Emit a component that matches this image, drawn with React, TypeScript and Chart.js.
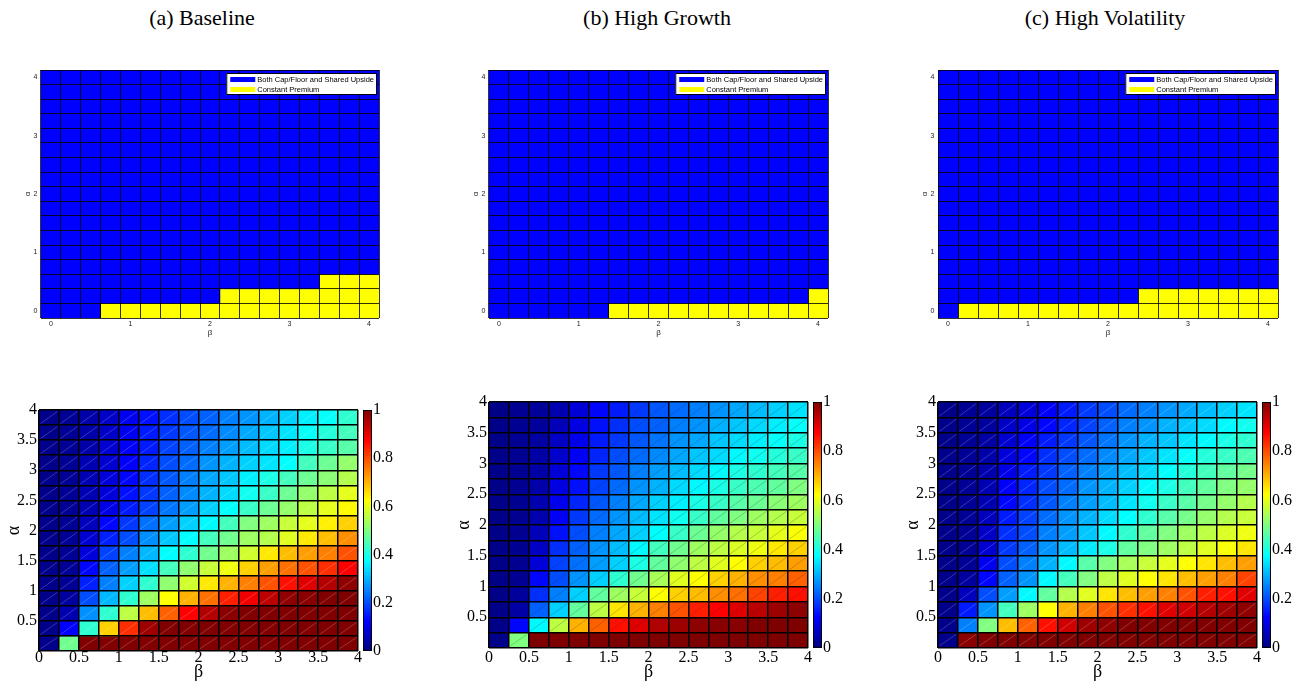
import React, { useEffect, useRef } from "react";
import { Chart, registerables } from "chart.js";

Chart.register(...registerables);

// ------------------------------------------------------------------ data
const panelTitles = ["(a) Baseline", "(b) High Growth", "(c) High Volatility"];

const regimeLabels = ["Both Cap/Floor and Shared Upside", "Constant Premium"];
const regimeColors = ["#0000ff", "#ffff00"];

// regime maps: cell centres on the β / α grid
const regimeGrid = [0, 0.25, 0.5, 0.75, 1, 1.25, 1.5, 1.75, 2, 2.25, 2.5, 2.75, 3, 3.25, 3.5, 3.75, 4];
const regimeTicks = [0, 1, 2, 3, 4];

// rows from α = 4 (top) down to α = 0 (bottom), columns β = 0 … 4; "1" = Constant Premium
const regimeBaseline = [
  "00000000000000000",
  "00000000000000000",
  "00000000000000000",
  "00000000000000000",
  "00000000000000000",
  "00000000000000000",
  "00000000000000000",
  "00000000000000000",
  "00000000000000000",
  "00000000000000000",
  "00000000000000000",
  "00000000000000000",
  "00000000000000000",
  "00000000000000000",
  "00000000000000111",
  "00000000011111111",
  "00011111111111111",
];
const regimeHighGrowth = [
  "00000000000000000",
  "00000000000000000",
  "00000000000000000",
  "00000000000000000",
  "00000000000000000",
  "00000000000000000",
  "00000000000000000",
  "00000000000000000",
  "00000000000000000",
  "00000000000000000",
  "00000000000000000",
  "00000000000000000",
  "00000000000000000",
  "00000000000000000",
  "00000000000000000",
  "00000000000000001",
  "00000011111111111",
];
const regimeHighVolatility = [
  "00000000000000000",
  "00000000000000000",
  "00000000000000000",
  "00000000000000000",
  "00000000000000000",
  "00000000000000000",
  "00000000000000000",
  "00000000000000000",
  "00000000000000000",
  "00000000000000000",
  "00000000000000000",
  "00000000000000000",
  "00000000000000000",
  "00000000000000000",
  "00000000000000000",
  "00000000001111111",
  "01111111111111111",
];

// share maps: cell edges on the β / α grid
const shareEdges = [0, 0.25, 0.5, 0.75, 1, 1.25, 1.5, 1.75, 2, 2.25, 2.5, 2.75, 3, 3.25, 3.5, 3.75, 4];
const betaTicks = [0, 0.5, 1, 1.5, 2, 2.5, 3, 3.5, 4];
const alphaTicks = [0.5, 1, 1.5, 2, 2.5, 3, 3.5, 4];
const colorbarTicks = [0, 0.2, 0.4, 0.6, 0.8, 1];

// rows from α = 3.75–4 (top) down to α = 0–0.25 (bottom); columns β = 0–0.25 … 3.75–4
const shareBaseline = [
  [0.01, 0.02, 0.04, 0.07, 0.11, 0.14, 0.17, 0.2, 0.22, 0.25, 0.27, 0.3, 0.33, 0.36, 0.38, 0.42],
  [0.01, 0.02, 0.04, 0.07, 0.11, 0.15, 0.18, 0.21, 0.23, 0.26, 0.29, 0.32, 0.35, 0.38, 0.41, 0.44],
  [0.01, 0.02, 0.04, 0.08, 0.12, 0.15, 0.19, 0.22, 0.25, 0.28, 0.31, 0.34, 0.36, 0.4, 0.43, 0.46],
  [0.01, 0.02, 0.05, 0.08, 0.12, 0.16, 0.2, 0.23, 0.27, 0.3, 0.33, 0.35, 0.375, 0.44, 0.48, 0.52],
  [0.01, 0.02, 0.05, 0.09, 0.13, 0.17, 0.21, 0.25, 0.29, 0.32, 0.36, 0.4, 0.44, 0.48, 0.51, 0.55],
  [0.01, 0.02, 0.05, 0.09, 0.14, 0.18, 0.22, 0.26, 0.3, 0.34, 0.39, 0.43, 0.48, 0.52, 0.56, 0.6],
  [0.01, 0.02, 0.05, 0.1, 0.15, 0.19, 0.24, 0.28, 0.33, 0.375, 0.43, 0.48, 0.52, 0.56, 0.6, 0.63],
  [0.01, 0.02, 0.06, 0.13, 0.18, 0.235, 0.28, 0.33, 0.37, 0.44, 0.5, 0.53, 0.57, 0.6, 0.64, 0.67],
  [0.01, 0.02, 0.08, 0.155, 0.2, 0.265, 0.32, 0.375, 0.44, 0.485, 0.53, 0.55, 0.595, 0.647, 0.69, 0.735],
  [0.01, 0.02, 0.09, 0.19, 0.25, 0.305, 0.375, 0.42, 0.485, 0.53, 0.58, 0.647, 0.69, 0.72, 0.75, 0.795],
  [0.01, 0.02, 0.13, 0.22, 0.28, 0.345, 0.44, 0.515, 0.57, 0.61, 0.67, 0.72, 0.765, 0.795, 0.83, 0.875],
  [0.01, 0.02, 0.155, 0.25, 0.33, 0.42, 0.515, 0.58, 0.647, 0.7, 0.75, 0.795, 0.86, 0.905, 0.95, 0.985],
  [0.01, 0.03, 0.2, 0.305, 0.42, 0.53, 0.625, 0.7, 0.765, 0.845, 0.89, 0.94, 0.985, 0.99, 1, 1],
  [0.01, 0.047, 0.266, 0.42, 0.56, 0.69, 0.78, 0.875, 0.95, 0.99, 1, 1, 1, 1, 1, 1],
  [0.01, 0.125, 0.42, 0.67, 0.83, 0.97, 1, 1, 1, 1, 1, 1, 1, 1, 1, 1],
  [0.01, 0.485, 1, 1, 1, 1, 1, 1, 1, 1, 1, 1, 1, 1, 1, 1],
];
const shareHighGrowth = [
  [0.01, 0.02, 0.03, 0.05, 0.09, 0.13, 0.15, 0.18, 0.21, 0.23, 0.25, 0.27, 0.29, 0.31, 0.33, 0.35],
  [0.01, 0.02, 0.03, 0.06, 0.1, 0.14, 0.17, 0.2, 0.22, 0.25, 0.27, 0.3, 0.32, 0.34, 0.36, 0.38],
  [0.01, 0.02, 0.035, 0.07, 0.11, 0.15, 0.18, 0.21, 0.24, 0.27, 0.29, 0.32, 0.34, 0.36, 0.38, 0.4],
  [0.01, 0.02, 0.04, 0.08, 0.12, 0.16, 0.2, 0.23, 0.26, 0.29, 0.32, 0.34, 0.37, 0.39, 0.41, 0.43],
  [0.01, 0.02, 0.04, 0.09, 0.13, 0.18, 0.21, 0.25, 0.28, 0.31, 0.34, 0.37, 0.4, 0.42, 0.44, 0.46],
  [0.01, 0.02, 0.045, 0.1, 0.14, 0.19, 0.23, 0.27, 0.3, 0.34, 0.37, 0.4, 0.43, 0.45, 0.47, 0.5],
  [0.01, 0.02, 0.05, 0.11, 0.16, 0.21, 0.25, 0.29, 0.33, 0.36, 0.4, 0.43, 0.46, 0.48, 0.51, 0.53],
  [0.01, 0.02, 0.05, 0.12, 0.18, 0.23, 0.27, 0.31, 0.35, 0.39, 0.43, 0.47, 0.5, 0.53, 0.55, 0.57],
  [0.01, 0.02, 0.06, 0.14, 0.2, 0.25, 0.29, 0.33, 0.375, 0.43, 0.48, 0.52, 0.55, 0.57, 0.6, 0.62],
  [0.01, 0.02, 0.07, 0.17, 0.22, 0.27, 0.31, 0.37, 0.44, 0.485, 0.53, 0.56, 0.59, 0.61, 0.647, 0.67],
  [0.01, 0.02, 0.09, 0.19, 0.235, 0.28, 0.33, 0.4, 0.47, 0.515, 0.56, 0.595, 0.625, 0.67, 0.69, 0.72],
  [0.01, 0.02, 0.13, 0.2, 0.27, 0.33, 0.42, 0.485, 0.54, 0.595, 0.625, 0.67, 0.7, 0.735, 0.75, 0.78],
  [0.01, 0.03, 0.17, 0.25, 0.33, 0.47, 0.53, 0.57, 0.625, 0.67, 0.69, 0.735, 0.765, 0.81, 0.845, 0.86],
  [0.01, 0.04, 0.22, 0.33, 0.47, 0.56, 0.65, 0.7, 0.75, 0.795, 0.845, 0.875, 0.905, 0.94, 0.97, 0.985],
  [0.01, 0.13, 0.37, 0.56, 0.7, 0.78, 0.86, 0.905, 0.95, 0.97, 0.985, 0.99, 0.99, 1, 1, 1],
  [0.01, 0.5, 1, 1, 1, 1, 1, 1, 1, 1, 1, 1, 1, 1, 1, 1],
];
const shareHighVolatility = [
  [0.01, 0.02, 0.03, 0.06, 0.09, 0.12, 0.15, 0.18, 0.2, 0.23, 0.25, 0.27, 0.29, 0.31, 0.33, 0.35],
  [0.01, 0.02, 0.03, 0.07, 0.1, 0.13, 0.16, 0.19, 0.22, 0.25, 0.27, 0.3, 0.32, 0.34, 0.37, 0.39],
  [0.01, 0.02, 0.035, 0.08, 0.12, 0.15, 0.18, 0.21, 0.24, 0.27, 0.3, 0.32, 0.35, 0.37, 0.4, 0.42],
  [0.01, 0.02, 0.04, 0.09, 0.13, 0.17, 0.2, 0.23, 0.26, 0.29, 0.32, 0.35, 0.38, 0.41, 0.43, 0.45],
  [0.01, 0.02, 0.045, 0.1, 0.15, 0.18, 0.22, 0.25, 0.28, 0.31, 0.34, 0.375, 0.41, 0.44, 0.47, 0.49],
  [0.01, 0.02, 0.05, 0.12, 0.16, 0.2, 0.23, 0.27, 0.3, 0.33, 0.37, 0.4, 0.44, 0.47, 0.5, 0.52],
  [0.01, 0.02, 0.05, 0.13, 0.17, 0.21, 0.25, 0.28, 0.31, 0.35, 0.39, 0.43, 0.46, 0.49, 0.52, 0.55],
  [0.01, 0.02, 0.06, 0.15, 0.19, 0.23, 0.27, 0.3, 0.34, 0.375, 0.42, 0.46, 0.49, 0.52, 0.55, 0.57],
  [0.01, 0.02, 0.07, 0.17, 0.2, 0.25, 0.28, 0.32, 0.37, 0.42, 0.47, 0.5, 0.53, 0.56, 0.59, 0.61],
  [0.01, 0.02, 0.08, 0.18, 0.22, 0.27, 0.31, 0.355, 0.4, 0.47, 0.5, 0.53, 0.56, 0.595, 0.62, 0.65],
  [0.01, 0.02, 0.11, 0.2, 0.25, 0.3, 0.37, 0.46, 0.5, 0.54, 0.57, 0.6, 0.625, 0.65, 0.69, 0.72],
  [0.01, 0.03, 0.13, 0.22, 0.27, 0.37, 0.44, 0.5, 0.56, 0.595, 0.625, 0.65, 0.69, 0.72, 0.75, 0.81],
  [0.01, 0.06, 0.2, 0.28, 0.37, 0.47, 0.55, 0.595, 0.65, 0.69, 0.72, 0.75, 0.795, 0.845, 0.86, 0.905],
  [0.01, 0.15, 0.27, 0.44, 0.53, 0.625, 0.7, 0.75, 0.795, 0.83, 0.86, 0.905, 0.92, 0.95, 0.97, 0.985],
  [0.01, 0.25, 0.5, 0.69, 0.78, 0.86, 0.92, 0.97, 0.985, 1, 1, 1, 1, 1, 1, 1],
  [0.01, 0.99, 1, 1, 1, 1, 1, 1, 1, 1, 1, 1, 1, 1, 1, 1],
];

const regimeMaps = [regimeBaseline, regimeHighGrowth, regimeHighVolatility];
const shareMaps = [shareBaseline, shareHighGrowth, shareHighVolatility];
const diagonalColors = ["rgba(255,255,255,0.35)", "rgba(40,40,40,0.4)", "rgba(255,255,255,0.35)"];

// ------------------------------------------------------------------ layout
const TITLE_X = [202, 657, 1105];
const TOP_BOX = [
  { l: 41, r: 379 },
  { l: 489, r: 828 },
  { l: 938, r: 1278 },
];
const TOP_T = 70;
const TOP_B = 318;
const BOTTOM_BOX = [
  { l: 39, r: 358, t: 410, b: 651, cb: 363 },
  { l: 489, r: 808, t: 402, b: 648, cb: 813 },
  { l: 938, r: 1257, t: 402, b: 648, cb: 1262 },
];
const CB_W = 9;

const SERIF = "'Liberation Serif', 'Times New Roman', serif";
const SANS = "'Liberation Sans', Arial, sans-serif";

// ------------------------------------------------------------------ helpers
const jet = (v: number) => {
  const t = Math.max(0, Math.min(1, v));
  const f = (x: number) => Math.round(255 * Math.max(0, Math.min(1, x)));
  return `rgb(${f(1.5 - Math.abs(4 * t - 3))},${f(1.5 - Math.abs(4 * t - 2))},${f(1.5 - Math.abs(4 * t - 1))})`;
};

const fixedTicks = (vals: number[]) => (scale: any) => {
  scale.ticks = vals.map((v) => ({ value: v }));
};
const labelOnly = (shown: number[]) => (v: any) => (shown.some((s) => Math.abs(s - v) < 1e-9) ? `${v}` : "");

const cellDiagonals = (color: string) => ({
  id: "cellDiagonals",
  afterDatasetsDraw(chart: any) {
    const ctx = chart.ctx;
    ctx.save();
    ctx.strokeStyle = color;
    ctx.lineWidth = 0.6;
    chart.data.datasets.forEach((_: any, i: number) => {
      chart.getDatasetMeta(i).data.forEach((bar: any) => {
        const { x, y, base, width } = bar.getProps(["x", "y", "base", "width"], true);
        const top = Math.min(y, base);
        const bottom = Math.max(y, base);
        ctx.beginPath();
        ctx.moveTo(x - width / 2 + 1.5, bottom - 1.5);
        ctx.lineTo(x + width / 2 - 1.5, top + 1.5);
        ctx.stroke();
      });
    });
    ctx.restore();
  },
});

const insideLegend = {
  id: "insideLegend",
  afterDraw(chart: any) {
    const { ctx, chartArea } = chart;
    const ds = chart.data.datasets;
    ctx.save();
    ctx.font = `7.5px ${SANS}`;
    const textW = Math.max(...ds.map((d: any) => ctx.measureText(d.label).width));
    const w = 31 + textW + 3;
    const h = 22;
    const x0 = chartArea.right - 2 - w;
    const y0 = chartArea.top + 3;
    ctx.fillStyle = "#fff";
    ctx.fillRect(x0, y0, w, h);
    ctx.strokeStyle = "#000";
    ctx.lineWidth = 1;
    ctx.strokeRect(x0 + 0.5, y0 + 0.5, w - 1, h - 1);
    ds.forEach((d: any, i: number) => {
      const cy = y0 + 6.5 + i * 10;
      ctx.fillStyle = d.legendColor;
      ctx.fillRect(x0 + 4, cy - 2.5, 25, 5);
      ctx.fillStyle = "#000";
      ctx.textBaseline = "middle";
      ctx.textAlign = "left";
      ctx.fillText(d.label, x0 + 31, cy);
    });
    ctx.restore();
  },
};

function regimeConfig(map: string[]) {
  const half = (regimeGrid[1] - regimeGrid[0]) / 2;
  const n = regimeGrid.length;
  const groups: any[][] = [[], []];
  map.forEach((row, i) => {
    const a = regimeGrid[n - 1 - i];
    row.split("").forEach((ch, j) => {
      groups[Number(ch)].push({ x: regimeGrid[j], y: [a - half, a + half] });
    });
  });
  const datasets = groups.map((data, k) => ({
    label: regimeLabels[k],
    legendColor: regimeColors[k],
    data,
    backgroundColor: regimeColors[k],
    borderWidth: 0,
    grouped: false,
    barPercentage: 1,
    categoryPercentage: 1,
  }));
  const tickFont = { family: SANS, size: 7, lineHeight: 1 };
  const grid = { display: true, drawTicks: false, tickLength: 0, offset: true, z: 1, color: "rgba(0,0,0,0.8)", lineWidth: 1 };
  return {
    type: "bar",
    data: { datasets },
    options: {
      responsive: false,
      animation: false,
      events: [],
      layout: { padding: { top: TOP_T - 55, right: 10, left: 0, bottom: 0 } },
      plugins: { legend: { display: false }, tooltip: { enabled: false } },
      scales: {
        x: {
          type: "linear",
          offset: false,
          min: regimeGrid[0] - half,
          max: regimeGrid[n - 1] + half,
          grid,
          border: { display: false },
          ticks: { font: tickFont, color: "#222", padding: 2.5, autoSkip: false, maxRotation: 0, callback: labelOnly(regimeTicks) },
          afterBuildTicks: fixedTicks(regimeGrid),
          afterFit: (s: any) => {
            s.height = 22;
          },
          title: { display: true, text: "β", font: { family: SANS, size: 8, lineHeight: 1 }, color: "#222", padding: { top: 0, bottom: 3 } },
        },
        y: {
          type: "linear",
          min: regimeGrid[0] - half,
          max: regimeGrid[n - 1] + half,
          grid,
          border: { display: false },
          ticks: { font: tickFont, color: "#222", padding: 3.5, autoSkip: false, callback: labelOnly(regimeTicks) },
          afterBuildTicks: fixedTicks(regimeGrid),
          afterFit: (s: any) => {
            s.width = 30;
          },
          title: { display: true, text: "α", font: { family: SANS, size: 8, lineHeight: 1 }, color: "#222", padding: { top: 13, bottom: 0 } },
        },
      },
    },
    plugins: [insideLegend],
  };
}

function shareConfig(rows: number[][], box: any, diag: string) {
  const n = rows.length;
  const datasets = rows.map((row, i) => {
    const r = n - 1 - i;
    return {
      label: `α ${shareEdges[r]}–${shareEdges[r + 1]}`,
      data: row.map((_, c) => ({ x: (shareEdges[c] + shareEdges[c + 1]) / 2, y: [shareEdges[r], shareEdges[r + 1]] })),
      backgroundColor: row.map(jet),
      borderWidth: 0,
      grouped: false,
      barPercentage: 1,
      categoryPercentage: 1,
    };
  });
  const tickFont = { family: SERIF, size: 16, lineHeight: 1 };
  const grid = { display: true, drawTicks: false, tickLength: 0, offset: false, z: 1, color: "#000", lineWidth: 1.5 };
  return {
    type: "bar",
    data: { datasets },
    options: {
      responsive: false,
      animation: false,
      events: [],
      layout: { padding: { top: box.t - 390, right: 12, left: 0, bottom: 0 } },
      plugins: { legend: { display: false }, tooltip: { enabled: false } },
      scales: {
        x: {
          type: "linear",
          offset: false,
          min: shareEdges[0],
          max: shareEdges[shareEdges.length - 1],
          grid,
          border: { display: false },
          ticks: { font: tickFont, color: "#000", padding: 658 - box.b - 8, autoSkip: false, maxRotation: 0, callback: labelOnly(betaTicks) },
          afterBuildTicks: fixedTicks(shareEdges),
          afterFit: (s: any) => {
            s.height = 684 - box.b;
          },
          title: { display: true, text: "β", font: { family: SERIF, size: 18, lineHeight: 1 }, color: "#000", padding: { top: 0, bottom: 3 } },
        },
        y: {
          type: "linear",
          min: shareEdges[0],
          max: shareEdges[shareEdges.length - 1],
          grid,
          border: { display: false },
          ticks: { font: tickFont, color: "#000", padding: 2, autoSkip: false, callback: labelOnly(alphaTicks) },
          afterBuildTicks: fixedTicks(shareEdges),
          afterFit: (s: any) => {
            s.width = 39;
          },
          title: { display: true, text: "α", font: { family: SERIF, size: 18, lineHeight: 1 }, color: "#000", padding: { top: 5, bottom: 0 } },
        },
      },
    },
    plugins: [cellDiagonals(diag)],
  };
}

function colorbarConfig(box: any) {
  const lo = colorbarTicks[0];
  const hi = colorbarTicks[colorbarTicks.length - 1];
  return {
    type: "bar",
    data: {
      labels: [""],
      datasets: [
        {
          data: [[lo, hi]],
          backgroundColor: (c: any) => {
            const ca = c.chart.chartArea;
            if (!ca) return jet(0);
            const g = c.chart.ctx.createLinearGradient(0, ca.bottom, 0, ca.top);
            [0, 0.125, 0.375, 0.625, 0.875, 1].forEach((s) => g.addColorStop(s, jet(lo + s * (hi - lo))));
            return g;
          },
          borderColor: "#000",
          borderWidth: 1,
          borderSkipped: false,
          inflateAmount: 0,
          barPercentage: 1,
          categoryPercentage: 1,
        },
      ],
    },
    options: {
      responsive: false,
      animation: false,
      events: [],
      layout: { padding: { top: box.t - 390, bottom: 684 - box.b, left: 2, right: 0 } },
      plugins: { legend: { display: false }, tooltip: { enabled: false } },
      scales: {
        x: { display: false },
        y: {
          position: "right",
          min: lo,
          max: hi,
          grid: { display: false, drawTicks: false, tickLength: 0 },
          border: { display: false },
          ticks: { font: { family: SERIF, size: 16, lineHeight: 1 }, color: "#000", padding: 1, autoSkip: false, callback: (v: any) => `${v}` },
          afterBuildTicks: fixedTicks(colorbarTicks),
          afterFit: (s: any) => {
            s.width = 36;
          },
        },
      },
    },
  };
}

// ------------------------------------------------------------------ component
export default function App() {
  const topRefs = useRef<(HTMLCanvasElement | null)[]>([]);
  const botRefs = useRef<(HTMLCanvasElement | null)[]>([]);
  const cbRefs = useRef<(HTMLCanvasElement | null)[]>([]);

  useEffect(() => {
    const charts: Chart[] = [];
    for (let p = 0; p < 3; p++) {
      const t = topRefs.current[p];
      const b = botRefs.current[p];
      const c = cbRefs.current[p];
      if (t) charts.push(new Chart(t, regimeConfig(regimeMaps[p]) as any));
      if (b) charts.push(new Chart(b, shareConfig(shareMaps[p], BOTTOM_BOX[p], diagonalColors[p]) as any));
      if (c) charts.push(new Chart(c, colorbarConfig(BOTTOM_BOX[p]) as any));
    }
    return () => charts.forEach((ch) => ch.destroy());
  }, []);

  return (
    <div
      style={{
        position: "fixed",
        left: 0,
        top: 0,
        width: 1302,
        height: 684,
        overflow: "hidden",
        background: "#fff",
      }}
    >
      {panelTitles.map((title, p) => (
        <div
          key={"t" + p}
          style={{
            position: "absolute",
            left: TITLE_X[p] - 200,
            top: 5,
            width: 400,
            height: 26,
            lineHeight: "26px",
            textAlign: "center",
            fontFamily: SERIF,
            fontSize: 22,
            color: "#000",
          }}
        >
          {title}
        </div>
      ))}
      {TOP_BOX.map((box, p) => {
        const left = box.l - 30;
        return (
          <canvas
            key={"top" + p}
            ref={(el) => {
              topRefs.current[p] = el;
            }}
            width={box.r - left + 10}
            height={TOP_B + 22 - 55}
            style={{ position: "absolute", left, top: 55 }}
          />
        );
      })}
      {BOTTOM_BOX.map((box, p) => {
        const left = box.l - 39;
        return (
          <canvas
            key={"bot" + p}
            ref={(el) => {
              botRefs.current[p] = el;
            }}
            width={box.r - left + 12}
            height={294}
            style={{ position: "absolute", left, top: 390 }}
          />
        );
      })}
      {BOTTOM_BOX.map((box, p) => (
        <canvas
          key={"cb" + p}
          ref={(el) => {
            cbRefs.current[p] = el;
          }}
          width={2 + CB_W + 36}
          height={294}
          style={{ position: "absolute", left: box.cb - 2, top: 390 }}
        />
      ))}
    </div>
  );
}
